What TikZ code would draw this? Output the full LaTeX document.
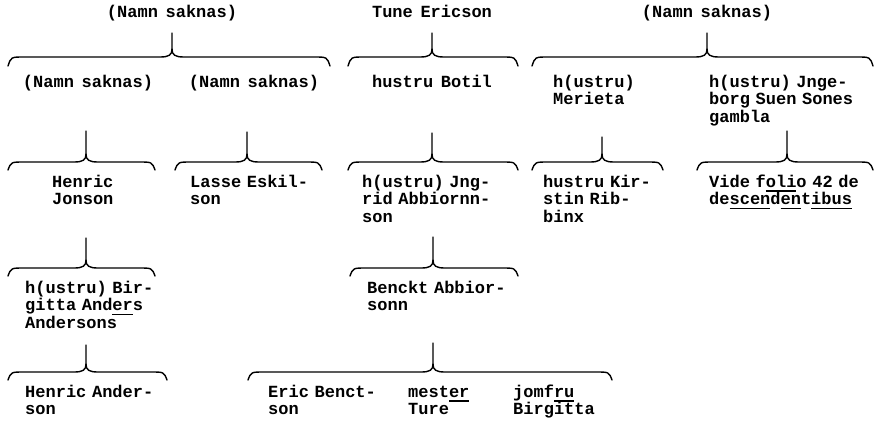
\documentclass[tikz,border=0pt]{standalone}
\usepackage{fontspec}
\newfontfamily\twfont[WordSpace=0.75]{Liberation Mono}
\newcommand\uln[1]{\setbox0\hbox{#1}\rlap{\rule[-4.5pt]{\wd0}{1.3pt}}\box0}
% xl, xt, xr, ystem, yhoriz, yend
\newcommand\fambrace[6]{%
 \draw[famline] (#1,#6) .. controls (#1+3,#5) .. (#1+16,#5) -- (#2-12,#5) .. controls (#2-3,#5) and (#2,#5-2) .. (#2,#5-8) -- (#2,#4);
 \draw[famline] (#3,#6) .. controls (#3-3,#5) .. (#3-16,#5) -- (#2+12,#5) .. controls (#2+3,#5) and (#2,#5-2) .. (#2,#5-8);
}
\tikzset{
 famline/.style={line width=1.4pt, line cap=round, line join=round, black},
 lbl/.style={font=\twfont\bfseries\fontsize{17}{17.5}\selectfont, inner sep=0pt},
 ml/.style={lbl, text width=200pt, align=left, anchor=base west},
}
\begin{document}
\begin{tikzpicture}[x=1pt,y=-1pt]
\fill[white] (0,0) rectangle (875,426);
\useasboundingbox (0,0) rectangle (875,426);
% row 1
\node[lbl,anchor=base] (p1) at (172,17) {(Namn saknas)};
\node[lbl,anchor=base] (p2) at (432,17) {Tune Ericson};
\node[lbl,anchor=base] (p3) at (707,17) {(Namn saknas)};
\fambrace{8}{172}{330}{33}{57}{66}
\fambrace{348}{432}{518}{33}{57}{66}
\fambrace{532}{707}{873}{33}{57}{66}
% row 2
\node[lbl,anchor=base] (c1) at (88,87) {(Namn saknas)};
\node[lbl,anchor=base] (c2) at (254,87) {(Namn saknas)};
\node[lbl,anchor=base] (c3) at (432,87) {hustru Botil};
\node[ml] (c4) at (553,87) {h(ustru)\\Merieta};
\node[ml] (c5) at (709,87) {h(ustru) Jnge-\\borg Suen Sones\\gambla};
\fambrace{8}{86}{155}{131}{162}{170}
\fambrace{175}{247}{322}{132}{162}{170}
\fambrace{348}{432}{518}{133}{162}{170}
\fambrace{532}{602}{663}{137}{162}{170}
\fambrace{697}{787}{873}{131}{162}{170}
% row 3
\node[ml] (g1) at (52,187) {Henric\\Jonson};
\node[ml] (g2) at (190,187) {Lasse Eskil-\\son};
\node[ml] (g3) at (362,187) {h(ustru) Jng-\\rid Abbiornn-\\son};
\node[ml] (g4) at (543,187) {hustru Kir-\\stin Rib-\\binx};
\node[ml] (g5) at (709,187) {Vide f\uln{oli}o 42 de\\de\uln{scen}d\uln{en}t\uln{ibus}};
\fambrace{8}{86}{155}{238}{268}{276}
\fambrace{350}{433}{518}{237}{268}{276}
% row 4
\node[ml] (h1) at (25,293) {h(ustru) Bir-\\gitta And\uln{er}s\\Andersons};
\node[ml] (h2) at (367,293) {Benckt Abbior-\\sonn};
\fambrace{8}{86}{167}{345}{372}{380}
\fambrace{248}{433}{612}{343}{372}{380}
% row 5
\node[ml] (k1) at (25,397) {Henric Ander-\\son};
\node[ml] (k2) at (268,397) {Eric Benct-\\son};
\node[ml] (k3) at (408,397) {mest\uln{er}\\Ture};
\node[ml] (k4) at (513,397) {jomf\uln{ru}\\Birgitta};
\end{tikzpicture}
\end{document}
